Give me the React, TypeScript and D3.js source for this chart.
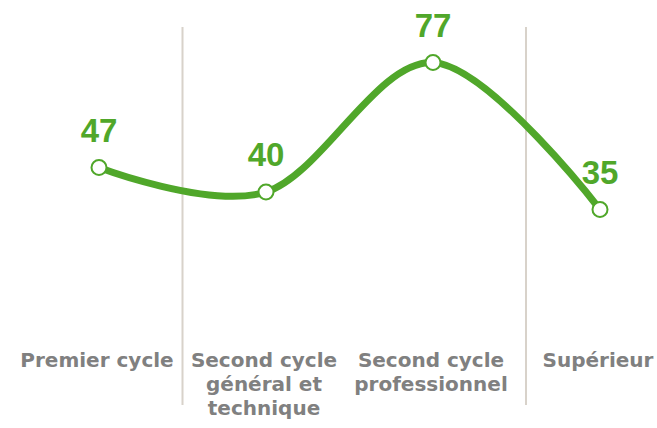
import React from "react";
import * as d3 from "d3";

// Category labels, split into display lines
const categories: string[][] = [
  ["Premier cycle"],
  ["Second cycle", "général et", "technique"],
  ["Second cycle", "professionnel"],
  ["Supérieur"],
];
const values: number[] = [47, 40, 77, 35];
// Group separators, expressed in category-index units
const separators: number[] = [0.5, 2.557];

const WIDTH = 657;
const HEIGHT = 428;
const GREEN = "#50a72a";
const GRAY = "#808080";
const RULE = "#d8d2ca";
const FONT = "'DejaVu Sans', Verdana, sans-serif";
const VALUE_FONT = "'Liberation Sans', Arial, sans-serif";

export default function App() {
  const x = d3.scaleLinear().domain([0, 3]).range([99, 600]);
  const y = d3.scaleLinear().domain([0, 100]).range([332, -18]);

  const line = d3
    .line<number>()
    .x((_, i) => x(i))
    .y((d) => y(d))
    .curve(d3.curveCardinal.tension(0));

  return (
    <svg
      width={WIDTH}
      height={HEIGHT}
      style={{ position: "absolute", left: 0, top: 0, background: "#fff" }}
      fontFamily={FONT}
    >
      {separators.map((s, i) => (
        <line
          key={i}
          x1={x(s)}
          x2={x(s)}
          y1={27}
          y2={405}
          stroke={RULE}
          strokeWidth={2}
        />
      ))}
      <path
        d={line(values) || ""}
        fill="none"
        stroke={GREEN}
        strokeWidth={7}
        strokeLinecap="round"
      />
      {values.map((v, i) => (
        <g key={i}>
          <circle
            cx={x(i)}
            cy={y(v)}
            r={7.5}
            fill="#fff"
            stroke={GREEN}
            strokeWidth={2}
          />
          <text
            x={x(i)}
            y={y(v) - 26}
            textAnchor="middle"
            fill={GREEN}
            fontFamily={VALUE_FONT}
            fontSize={33}
            fontWeight="bold"
          >
            {v}
          </text>
        </g>
      ))}
      {categories.map((lines, i) => (
        <text
          key={i}
          x={x(i) - 2}
          y={367}
          textAnchor="middle"
          fill={GRAY}
          fontSize={20}
          fontWeight="bold"
        >
          {lines.map((t, j) => (
            <tspan key={j} x={x(i) - 2} dy={j === 0 ? 0 : 24}>
              {t}
            </tspan>
          ))}
        </text>
      ))}
    </svg>
  );
}
